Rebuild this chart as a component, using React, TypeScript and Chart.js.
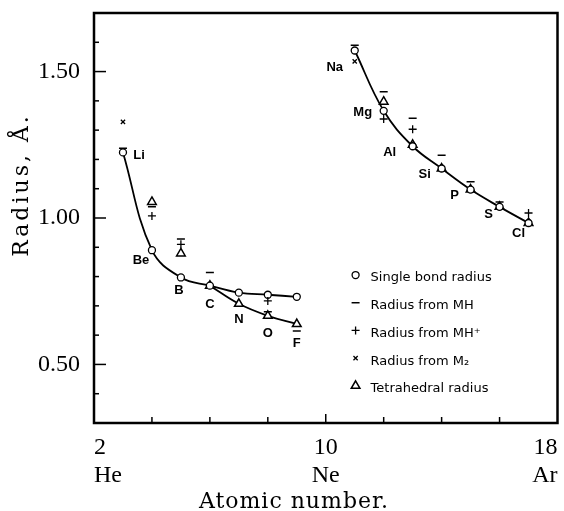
import React, { useEffect, useRef } from 'react';
import { Chart, registerables } from 'chart.js';
import { drawPoint } from 'chart.js/helpers';

Chart.register(...registerables);

// ---- data ----
const elements = ['Li', 'Be', 'B', 'C', 'N', 'O', 'F', 'Na', 'Mg', 'Al', 'Si', 'P', 'S', 'Cl'];
const atomicNumbers = [3, 4, 5, 6, 7, 8, 9, 11, 12, 13, 14, 15, 16, 17];
const singleBond = [1.224, 0.89, 0.797, 0.769, 0.745, 0.738, 0.731, 1.572, 1.366, 1.245, 1.169, 1.097, 1.038, 0.983];
const fromMH = [1.238, 1.038, 0.928, 0.814, null, 0.68, 0.614, 1.59, 1.431, 1.341, 1.214, 1.124, 1.055, null];
const fromMHplus = [null, 1.007, 0.91, null, null, 0.717, null, null, 1.338, 1.303, null, null, null, 1.017];
const fromM2 = [1.328, null, null, null, null, null, null, 1.535, null, null, null, null, null, null];
const tetrahedral = [null, 1.055, 0.879, 0.769, 0.707, 0.666, 0.638, null, 1.397, 1.25, 1.169, 1.097, 1.038, 0.983];

const upperCurveElements = ['Li', 'Be', 'B', 'C', 'N', 'O', 'F'];
const branchCurveElements = ['C', 'N', 'O', 'F'];
const thirdRowCurveElements = ['Na', 'Mg', 'Al', 'Si', 'P', 'S', 'Cl'];

const xTickValues = [2, 10, 18];
const xTickLabels = [['2', 'He'], ['10', 'Ne'], ['18', 'Ar']];
const yTickValues = [0.5, 1.0, 1.5];
const yTickLabels = ['0.50', '1.00', '1.50'];

const xTitle = 'Atomic number.';
const yTitle = 'Radius, Å.';

const legendLabels = [
  'Single bond radius',
  'Radius from MH',
  'Radius from MH\u207A',
  'Radius from M\u2082',
  'Tetrahedral radius',
];

// label placement offsets (pixels) relative to the single bond point
const labelOffsets: Record<string, [number, number]> = {
  Li: [16, 3], Be: [-11, 10], B: [-2, 13], C: [0, 19], N: [0, 27], O: [0, 39], F: [0, 47],
  Na: [-20, 17], Mg: [-21, 2], Al: [-23, 6], Si: [-17, 6], P: [-16, 6], S: [-11, 8], Cl: [-10, 10],
};

function points(vals: (number | null)[]) {
  const out: { x: number; y: number }[] = [];
  atomicNumbers.forEach((x, i) => {
    const v = vals[i];
    if (v !== null && v !== undefined) out.push({ x, y: v });
  });
  return out;
}

function curve(names: string[], vals: (number | null)[]) {
  return names.map((n) => {
    const i = elements.indexOf(n);
    return { x: atomicNumbers[i], y: vals[i] as number };
  });
}

const serif = 'Liberation Serif';
const sans = 'DejaVu Sans';

const decorPlugin = {
  id: 'decor',
  afterDraw(chart: any) {
    const { ctx, chartArea } = chart;
    const xs = chart.scales.x;
    const ys = chart.scales.y;
    ctx.save();
    ctx.strokeStyle = '#000';
    ctx.fillStyle = '#000';

    // frame
    ctx.lineWidth = 2.5;
    ctx.strokeRect(chartArea.left, chartArea.top, chartArea.right - chartArea.left, chartArea.bottom - chartArea.top);

    // inner tick marks
    ctx.lineWidth = 1.5;
    for (let k = Math.ceil(ys.min * 10); k <= Math.floor(ys.max * 10); k++) {
      const v = k / 10;
      const py = ys.getPixelForValue(v);
      const len = k % 5 === 0 ? 12 : 5;
      ctx.beginPath();
      ctx.moveTo(chartArea.left, py);
      ctx.lineTo(chartArea.left + len, py);
      ctx.stroke();
    }
    for (let v = xs.min + 2; v < xs.max; v += 2) {
      const px = xs.getPixelForValue(v);
      const len = v === 10 ? 9 : 6;
      ctx.beginPath();
      ctx.moveTo(px, chartArea.bottom);
      ctx.lineTo(px, chartArea.bottom - len);
      ctx.stroke();
    }

    // element labels
    ctx.font = `bold 13px "Liberation Sans"`;
    ctx.textAlign = 'center';
    ctx.textBaseline = 'middle';
    elements.forEach((el, i) => {
      const px = xs.getPixelForValue(atomicNumbers[i]);
      const py = ys.getPixelForValue(singleBond[i]);
      const [dx, dy] = labelOffsets[el];
      ctx.fillText(el, px + dx, py + dy);
    });

    // legend
    const markerSets = chart.data.datasets.filter((d: any) => d.legendRow !== undefined);
    const lx = xs.getPixelForValue(11.03);
    const rowTop = ys.getPixelForValue(0.795);
    const rowGap = 27.7;
    ctx.font = `13px "${sans}"`;
    ctx.textAlign = 'left';
    markerSets.forEach((d: any) => {
      const y = rowTop + d.legendRow * rowGap;
      ctx.fillStyle = '#fff';
      ctx.strokeStyle = '#000';
      ctx.lineWidth = d.borderWidth;
      drawPoint(ctx, { pointStyle: d.pointStyle, radius: d.pointRadius, borderWidth: d.borderWidth, rotation: 0 } as any, lx, y - 3);
      ctx.fillStyle = '#000';
      ctx.fillText(d.label, lx + 15, y);
    });

    // axis titles
    ctx.fillStyle = '#000';
    ctx.textAlign = 'center';
    ctx.textBaseline = 'alphabetic';
    ctx.save();
    ctx.font = `22px "DejaVu Serif"`;
    try { (ctx as any).letterSpacing = '1px'; } catch (e) { /* ignore */ }
    ctx.fillText(xTitle, 294, 508);
    ctx.restore();
    ctx.save();
    ctx.font = `22px "DejaVu Serif"`;
    try { (ctx as any).letterSpacing = '3px'; } catch (e) { /* ignore */ }
    ctx.translate(28, 185);
    ctx.rotate(-Math.PI / 2);
    ctx.fillText(yTitle, 0, 0);
    ctx.restore();

    ctx.restore();
  },
};

export default function App() {
  const ref = useRef<HTMLCanvasElement>(null);
  useEffect(() => {
    const canvas = ref.current;
    if (!canvas) return;
    const curveStyle = {
      showLine: true,
      borderColor: '#000',
      borderWidth: 1.8,
      pointRadius: 0,
      cubicInterpolationMode: 'default',
      tension: 0.4,
      fill: false,
      order: 10,
    };
    const chart = new Chart(canvas, {
      type: 'scatter',
      data: {
        datasets: [
          { label: 'curve1', data: curve(upperCurveElements, singleBond), ...curveStyle } as any,
          { label: 'curve2', data: curve(branchCurveElements, tetrahedral), ...curveStyle } as any,
          { label: 'curve3', data: curve(thirdRowCurveElements, singleBond), ...curveStyle } as any,
          {
            label: legendLabels[4], data: points(tetrahedral), legendRow: 4,
            pointStyle: 'triangle', pointRadius: 5, borderWidth: 1.5,
            borderColor: '#000', backgroundColor: '#fff', order: 5,
          } as any,
          {
            label: legendLabels[0], data: points(singleBond), legendRow: 0,
            pointStyle: 'circle', pointRadius: 3.5, borderWidth: 1.3,
            borderColor: '#000', backgroundColor: '#fff', order: 4,
          } as any,
          {
            label: legendLabels[1], data: points(fromMH), legendRow: 1,
            pointStyle: 'line', pointRadius: 4, borderWidth: 1.5,
            borderColor: '#000', backgroundColor: '#fff', order: 3,
          } as any,
          {
            label: legendLabels[2], data: points(fromMHplus), legendRow: 2,
            pointStyle: 'cross', pointRadius: 4, borderWidth: 1.3,
            borderColor: '#000', backgroundColor: '#fff', order: 2,
          } as any,
          {
            label: legendLabels[3], data: points(fromM2), legendRow: 3,
            pointStyle: 'crossRot', pointRadius: 3, borderWidth: 1.3,
            borderColor: '#000', backgroundColor: '#fff', order: 1,
          } as any,
        ],
      },
      options: {
        animation: false,
        responsive: false,
        events: [],
        layout: { padding: { top: 13, right: 5, left: 0, bottom: 0 } },
        plugins: { legend: { display: false }, tooltip: { enabled: false } },
        scales: {
          x: {
            type: 'linear',
            min: 2,
            max: 18,
            afterBuildTicks: (s: any) => { s.ticks = xTickValues.map((value) => ({ value })); },
            afterFit: (s: any) => { s.height = 88; s.paddingLeft = 0; s.paddingRight = 0; },
            ticks: {
              align: 'inner',
              autoSkip: false,
              maxRotation: 0,
              padding: 10,
              color: '#000',
              font: { family: serif, size: 24, lineHeight: 1.2 },
              callback: (v: any) => xTickLabels[xTickValues.indexOf(Number(v))],
            },
            grid: { display: false, drawTicks: false },
            border: { display: false },
          },
          y: {
            type: 'linear',
            min: 0.3,
            max: 1.7,
            afterBuildTicks: (s: any) => { s.ticks = yTickValues.map((value) => ({ value })); },
            afterFit: (s: any) => { s.width = 94; s.paddingTop = 0; s.paddingBottom = 0; },
            ticks: {
              padding: 14,
              color: '#000',
              font: { family: serif, size: 24 },
              callback: (v: any) => yTickLabels[yTickValues.indexOf(Number(v))],
            },
            grid: { display: false, drawTicks: false },
            border: { display: false },
          },
        },
      } as any,
      plugins: [decorPlugin],
    });
    return () => chart.destroy();
  }, []);
  return (
    <div style={{ position: 'fixed', left: 0, top: 0, width: 564, height: 511, background: '#fff' }}>
      <canvas ref={ref} width={564} height={511} style={{ display: 'block' }} />
    </div>
  );
}
